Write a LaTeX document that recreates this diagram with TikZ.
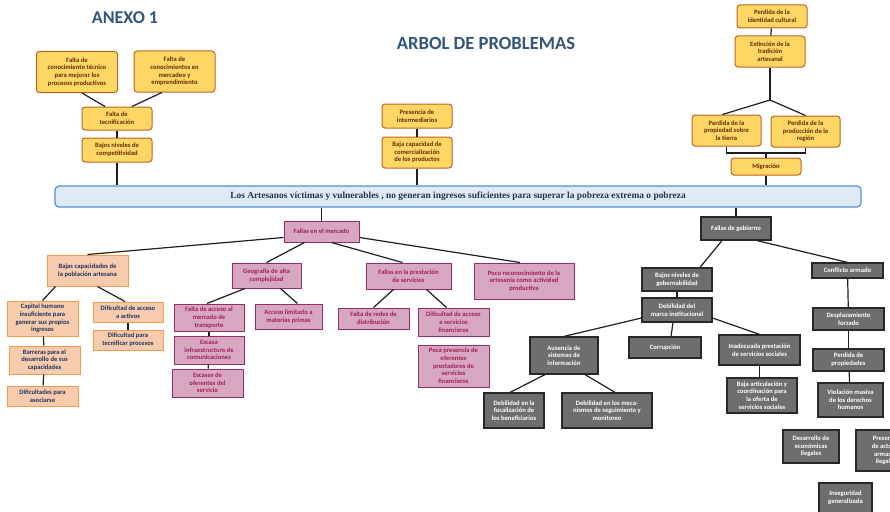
\documentclass[tikz,border=0pt]{standalone}
\usepackage{fontspec}
\setmainfont{Carlito}
\newfontfamily\serifbold{Liberation Serif}
\usepackage{tikz}

\definecolor{amarillo}{RGB}{255,215,100}
\definecolor{bordeam}{RGB}{196,96,30}
\definecolor{cafe}{RGB}{105,40,10}
\definecolor{celeste}{RGB}{222,235,247}
\definecolor{azul}{RGB}{80,145,210}
\definecolor{azuloscuro}{RGB}{35,50,80}
\definecolor{naranja}{RGB}{248,203,173}
\definecolor{bordena}{RGB}{245,155,80}
\definecolor{textona}{RGB}{30,50,95}
\definecolor{rosa}{RGB}{214,167,190}
\definecolor{borderos}{RGB}{150,45,105}
\definecolor{textoros}{RGB}{160,30,95}
\definecolor{gris}{RGB}{110,110,110}
\definecolor{bordegr}{RGB}{40,40,40}
\definecolor{titulo}{RGB}{50,85,125}
\definecolor{linea}{RGB}{30,30,30}

\begin{document}
\begin{tikzpicture}[x=1pt,y=-1pt,very thick,draw=linea,
    font=\bfseries\fontsize{6.6}{7.7}\selectfont,
    causa/.style={draw=bordeam, fill=amarillo, text=cafe, rounded corners=3pt,
      line width=1pt, align=center, inner sep=1pt},
    efecto/.style={draw=azul, fill=celeste, text=azuloscuro, rounded corners=4pt,
      line width=1.2pt, align=center},
    capac/.style={draw=bordena, fill=naranja, text=textona, line width=1pt,
      align=center, inner sep=1pt},
    merc/.style={draw=borderos, fill=rosa, text=textoros, line width=1pt,
      align=center, inner sep=1pt},
    gob/.style={draw=bordegr, fill=gris, text=white, line width=1.2pt,
      align=center, inner sep=1pt},
    wh/.style 2 args={minimum width=#1pt, minimum height=#2pt},
    every edge/.style={draw=linea, very thick}]

  \useasboundingbox (0,0) rectangle (890,511);

  % titulos
  \node[text=titulo, font=\bfseries\fontsize{18}{20}\selectfont] (anexo) at (125,18) {ANEXO 1};
  \node[text=titulo, font=\bfseries\fontsize{18.6}{20}\selectfont] (arbol) at (486,43) {ARBOL DE PROBLEMAS};

  % efectos (arriba)
  \node[causa, wh={81}{41}] (y1) at (77,72) {Falta de\\conocimiento técnico\\para mejorar  los\\procesos productivos};
  \node[causa, wh={81}{41}] (y2) at (174.5,71.5) {Falta de\\conocimientos en\\mercadeo y\\emprendimiento};
  \node[causa, wh={70}{23}] (y3) at (117,118.5) {Falta de\\tecnificación};
  \node[causa, wh={70}{24}] (y4) at (117,150) {Bajos niveles de\\competitividad};
  \node[causa, wh={70}{24}] (y5) at (417,116) {Presencia de\\intermediarios};
  \node[causa, wh={70}{31}] (y6) at (417,152.5) {Baja capacidad de\\comercialización\\de los productos};
  \node[causa, wh={70}{23}] (y7) at (772,16.5) {Perdida de la\\identidad cultural};
  \node[causa, wh={70}{31}] (y8) at (770,51.5) {Extinción de la\\tradición\\artesanal};
  \node[causa, wh={69}{31}] (y9) at (726.5,130.5) {Perdida de la\\propiedad  sobre\\la tierra};
  \node[causa, wh={69}{31}] (y10) at (805.5,131.5) {Perdida de la\\producción de la\\región};
  \node[causa, wh={70}{17}] (y11) at (766,166.5) {Migración};
  \coordinate (j) at (770,100);
  \coordinate (br) at (766,153);

  % problema central
  \node[efecto, wh={806}{21}, font=\serifbold\bfseries\fontsize{9.4}{11}\selectfont] (main) at (458,196.5)
    {Los Artesanos  víctimas y vulnerables , no generan ingresos suficientes para superar la pobreza extrema o pobreza};

  % causas: mercado
  \node[merc, wh={75}{21}] (p0) at (321.5,231.5) {Fallas en el mercado};
  \node[capac, wh={81}{31}] (o1) at (87.5,270.5) {Bajas capacidades de\\la población artesana};
  \node[capac, wh={71}{35}] (o2) at (42.5,318.5) {Capital humano\\insuficiente para\\generar sus propios\\ingresos};
  \node[capac, wh={70}{20}] (o3) at (128,312) {Dificultad de acceso\\a activos};
  \node[capac, wh={70}{20}] (o4) at (128,340) {Dificultad para\\tecnificar procesos};
  \node[capac, wh={71}{28}] (o5) at (44.5,360) {Barreras para el\\desarrollo de sus\\capacidades};
  \node[capac, wh={71}{20}] (o6) at (42.5,396) {Dificultades para\\asociarse};
  \node[merc, wh={69}{25}] (p1) at (266.5,275.5) {Geografía de alta\\complejidad};
  \node[merc, wh={85}{26}] (p2) at (408.5,276) {Fallas en la prestación\\de servicios};
  \node[merc, wh={100}{36}] (p3) at (524,281) {Poco reconocimiento de la\\artesanía como actividad\\productiva};
  \node[merc, wh={70}{27}] (p4) at (209,317.5) {Falta de acceso al\\mercado de\\transporte};
  \node[merc, wh={67}{25}] (p5) at (288.5,316.5) {Acceso limitado a\\materias primas};
  \node[merc, wh={70}{28}] (p6) at (209,350) {Escasa\\infraestructura de\\comunicaciones};
  \node[merc, wh={71}{28}] (p7) at (207.5,383) {Escases de\\oferentes del\\servicio};
  \node[merc, wh={71}{21}] (p8) at (373.5,318.5) {Falta de redes de\\distribución};
  \node[merc, wh={71}{28}] (p9) at (453.5,322) {Dificultad de acceso\\a servicios\\financieros};
  \node[merc, wh={71}{42}] (p10) at (453.5,366) {Poca presencia de\\oferentes\\prestadores de\\servicios\\financieros};

  % causas: gobierno
  \node[gob, wh={70}{23}] (g0) at (736,228.5) {Fallas de gobierno};
  \node[gob, wh={70}{23}] (g1) at (677,279.5) {Bajos niveles de\\gobernabilidad};
  \node[gob, wh={71}{15}] (g2) at (847.5,270.5) {Conflicto armado};
  \node[gob, wh={70}{24}] (g3) at (677,310) {Debilidad del\\marco institucional};
  \node[gob, wh={71}{22}] (g4) at (848.5,319) {Desplazamiento\\forzado};
  \node[gob, wh={72}{21}] (g5) at (665,347.5) {Corrupción};
  \node[gob, wh={81}{30}] (g6) at (759.5,350) {Inadecuada prestación\\de servicios sociales};
  \node[gob, wh={71}{22}] (g7) at (848.5,360) {Perdida de\\propiedades};
  \node[gob, wh={68}{37}] (g8) at (564,355.5) {Ausencia de\\sistemas de\\información};
  \node[gob, wh={70}{35}] (g9) at (762,395.5) {Baja articulación y\\coordinación para\\la oferta de\\servicios sociales};
  \node[gob, wh={65}{34}] (g10) at (850.5,400) {Violación masiva\\de los derechos\\humanos};
  \node[gob, wh={60}{35}] (g11) at (514,410.5) {Debilidad en la\\focalización de\\los beneficiarios};
  \node[gob, wh={90}{35}] (g12) at (607,410.5) {Debilidad en  los meca-\\nismos de seguimiento y\\monitoreo};
  \node[gob, wh={56}{33}] (g13) at (811,446.5) {Desarrollo de\\económicas\\ilegales};
  \node[gob, wh={60}{41}] (g14) at (886,450.5) {Presencia\\de actores\\armados\\ilegales};
  \node[gob, wh={53}{30}] (g15) at (845.5,498) {Inseguridad\\generalizada};

  \path
    ([xshift=5pt]y1.south) edge ([xshift=-12pt]y3.north)
    ([xshift=-12.5pt]y2.south) edge ([xshift=15pt]y3.north)
    (y3) edge (y4)
    (y4.south) edge (y4 |- main.north)
    (y5) edge (y6)
    (y6.south) edge (y6 |- main.north)
    (y7) edge (y8)
    (y8.south) edge (j)
    (j) edge ([xshift=-4pt]y9.north)
    (j) edge (y10.north)
    (br) edge (y11.north)
    (y11.south) edge (y11 |- main.north);
  \draw[linea] (y9.south) |- (br) -| (y10.south);

  \path
    (p0 |- main.south) edge (p0.north)
    ([yshift=5pt]p0.south west) edge (o1.north)
    ([xshift=-17pt]p0.south) edge (p1.north)
    ([xshift=10pt]p0.south) edge ([xshift=-6pt]p2.north)
    ([yshift=5pt]p0.south east) edge ([xshift=-4pt]p3.north)
    ([xshift=-32pt]o1.south) edge (o2.north)
    ([xshift=10pt]o1.south) edge ([xshift=-3pt]o3.north)
    (o3) edge (o4)
    (o2) edge (o5)
    (o5) edge (o6)
    ([xshift=-21.5pt]p1.south) edge ([xshift=-2pt]p4.north)
    ([xshift=14pt]p1.south) edge ([xshift=9pt]p5.north)
    (p4) edge (p6)
    (p6) edge (p7)
    ([xshift=-15pt]p2.south) edge (p8.north)
    ([xshift=18pt]p2.south) edge ([xshift=-7pt]p9.north);

  \path
    (g0 |- main.south) edge (g0.north)
    ([xshift=-14pt]g0.south) edge ([xshift=23pt]g1.north)
    ([xshift=21pt]g0.south) edge (g2.north)
    (g1) edge (g3)
    ([yshift=-8pt]g3.west) edge (g8.north)
    ([xshift=-4pt]g3.south) edge ([xshift=6pt]g5.north)
    ([yshift=-8pt]g3.east) edge (g6.north)
    (g6.south) edge (g6.south |- g9.north)
    (g2) edge (g4)
    (g4) edge (g7)
    (g7) edge (g10)
    ([xshift=-19pt]g8.south) edge ([xshift=-4pt]g11.north)
    ([xshift=21pt]g8.south) edge ([xshift=8pt]g12.north);
\end{tikzpicture}
\end{document}
